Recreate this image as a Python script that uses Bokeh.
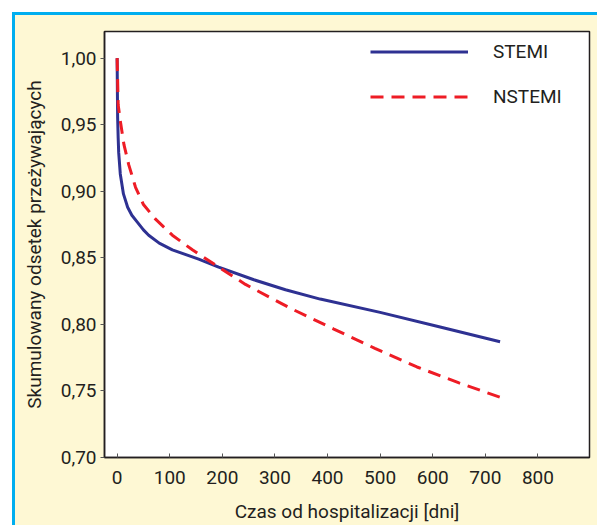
from bokeh.plotting import figure
from bokeh.models import FixedTicker, Legend, LegendItem, Range1d
from bokeh.embed import file_html
from bokeh.resources import INLINE

# ---- data ----
stemi_days = [0, 0.5, 1, 2, 3, 6, 12, 20, 28, 38, 50, 60, 80, 105, 155, 193, 260, 320, 386, 500, 614, 728]
stemi_surv = [1.0, 0.975, 0.955, 0.94, 0.929, 0.913, 0.898, 0.888, 0.882, 0.877, 0.871, 0.867, 0.861,
              0.856, 0.849, 0.843, 0.8335, 0.826, 0.819, 0.809, 0.798, 0.787]
nstemi_days = [0, 2, 6, 13, 22, 35, 50, 73, 105, 143, 193, 244, 330, 412, 490, 570, 650, 730]
nstemi_surv = [1.0, 0.965, 0.953, 0.935, 0.92, 0.903, 0.890, 0.879, 0.867, 0.856, 0.843, 0.830,
               0.812, 0.7965, 0.782, 0.768, 0.756, 0.745]
x_ticks = [0, 100, 200, 300, 400, 500, 600, 700, 800]
y_ticks = [0.70, 0.75, 0.80, 0.85, 0.90, 0.95, 1.00]
y_tick_labels = ["0,70", "0,75", "0,80", "0,85", "0,90", "0,95", "1,00"]
series_names = ["STEMI", "NSTEMI"]
x_title = "Czas od hospitalizacji [dni]"
y_title = "Skumulowany odsetek przeżywających"

FONT = "Liberation Sans Narrow, Roboto, sans-serif"
TXT = "#231F20"
W, H = 597, 525

p = figure(width=W, height=H, output_backend="svg", toolbar_location=None,
           x_range=Range1d(-24, 898), y_range=Range1d(0.70, 1.02),
           min_border_left=104, min_border_top=31, min_border_right=8, min_border_bottom=66)
p.border_fill_color = "#FEF8D4"
p.border_fill_alpha = 0
p.styles = {
    "background": (
        "linear-gradient(to right, #FFFFFF 12px, transparent 12px), "
        "linear-gradient(to bottom, #FFFFFF 12px, #00AEEF 12px, #00AEEF 15px, transparent 15px), "
        "linear-gradient(to right, #FFFFFF 12px, #00AEEF 12px, #00AEEF 15px, transparent 15px), "
        "#FEF8D4"
    )
}
p.background_fill_color = "white"
p.outline_line_color = TXT
p.outline_line_width = 1.5
p.grid.visible = False

for ax in (p.xaxis[0], p.yaxis[0]):
    ax.axis_line_color = TXT
    ax.axis_line_width = 1.5
    ax.major_tick_line_color = "#555555"
    ax.minor_tick_line_color = None
    ax.major_label_text_font = FONT
    ax.major_label_text_font_size = "19px"
    ax.major_label_text_color = TXT
    ax.axis_label_text_font = FONT
    ax.axis_label_text_font_size = "19px"
    ax.axis_label_text_font_style = "normal"
    ax.axis_label_text_color = TXT

p.xaxis.ticker = FixedTicker(ticks=x_ticks)
p.xaxis.major_tick_in = 4
p.xaxis.major_tick_out = 0
p.xaxis.major_label_standoff = 13
p.xaxis.axis_label = x_title
p.xaxis.axis_label_standoff = 13

p.yaxis.ticker = FixedTicker(ticks=y_ticks)
p.yaxis.major_label_overrides = {t: l for t, l in zip(y_ticks, y_tick_labels)}
p.yaxis.major_tick_in = 0
p.yaxis.major_tick_out = 4
p.yaxis.major_label_standoff = 4
p.yaxis.axis_label = y_title
p.yaxis.axis_label_standoff = 12

r1 = p.line(stemi_days, stemi_surv, line_color="#2E3192", line_width=3)
r2 = p.line(nstemi_days, nstemi_surv, line_color="#EE1C25", line_width=3, line_dash="13 8")

legend = Legend(items=[LegendItem(label=series_names[0], renderers=[r1]),
                       LegendItem(label=series_names[1], renderers=[r2])],
                location=(266, 338), padding=0, spacing=0, glyph_width=98, glyph_height=45,
                label_height=45, label_standoff=25, border_line_color=None,
                background_fill_alpha=0, label_text_font=FONT, label_text_font_size="19px",
                label_text_color=TXT)
p.add_layout(legend, "center")

open("out.html", "w").write(file_html(p, INLINE))
